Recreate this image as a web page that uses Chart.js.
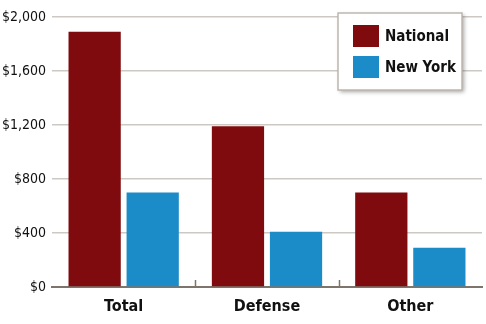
<!DOCTYPE html>
<html>
<head>
<meta charset="utf-8">
<script src="https://cdn.jsdelivr.net/npm/chart.js@4/dist/chart.umd.min.js"></script>
<style>
  html, body { margin: 0; padding: 0; background: #fff; }
  #wrap { width: 486px; height: 324px; }
</style>
</head>
<body>
<div id="wrap"><canvas id="spendChart" width="486" height="324"></canvas></div>
<script>
const categories = ['Total', 'Defense', 'Other'];
const nationalValues = [1890, 1190, 700];
const newYorkValues = [700, 410, 290];
const seriesNames = ['National', 'New York'];
const seriesColors = ['#800b0e', '#1b8cc8'];

const FONT = '"DejaVu Sans Condensed", "Liberation Sans", Arial, sans-serif';

// short upward marks on the x axis between categories
const dividerTicks = {
    id: 'dividerTicks',
    afterDatasetsDraw(chart) {
        const { ctx, chartArea, scales: { x } } = chart;
        const step = (chartArea.right - chartArea.left) / categories.length;
        ctx.save();
        ctx.strokeStyle = '#7d746b';
        ctx.lineWidth = 1.5;
        for (let i = 1; i < categories.length; i++) {
            const px = Math.round(x.getPixelForValue(i) - step / 2) + 0.5;
            ctx.beginPath();
            ctx.moveTo(px, chartArea.bottom);
            ctx.lineTo(px, chartArea.bottom - 7);
            ctx.stroke();
        }
        ctx.restore();
    }
};

// boxed legend in the top right corner with a drop shadow
const boxLegend = {
    id: 'boxLegend',
    afterDraw(chart) {
        const { ctx } = chart;
        const bx = 338, by = 13, bw = 124, bh = 77;
        ctx.save();
        ctx.shadowColor = 'rgba(0,0,0,0.35)';
        ctx.shadowBlur = 4;
        ctx.shadowOffsetX = 2;
        ctx.shadowOffsetY = 2;
        ctx.fillStyle = '#fff';
        ctx.fillRect(bx, by, bw, bh);
        ctx.restore();
        ctx.save();
        ctx.strokeStyle = '#bdb6ae';
        ctx.lineWidth = 1.5;
        ctx.strokeRect(bx, by, bw, bh);
        ctx.font = 'bold 15px ' + FONT;
        ctx.textBaseline = 'middle';
        chart.data.datasets.forEach((ds, i) => {
            const y = by + 12 + i * 31;
            ctx.fillStyle = ds.backgroundColor;
            ctx.fillRect(bx + 15, y, 26, 22);
            ctx.fillStyle = '#111';
            ctx.fillText(ds.label, bx + 47, y + 12);
        });
        ctx.restore();
    }
};

new Chart(document.getElementById('spendChart'), {
    type: 'bar',
    data: {
        labels: categories,
        datasets: [
            { label: seriesNames[0], data: nationalValues, backgroundColor: seriesColors[0] },
            { label: seriesNames[1], data: newYorkValues, backgroundColor: seriesColors[1] }
        ]
    },
    options: {
        responsive: false,
        animation: false,
        layout: { padding: { top: 17, right: 4, bottom: 0, left: 0 } },
        categoryPercentage: 0.81,
        barPercentage: 0.9,
        plugins: {
            legend: { display: false },
            tooltip: { enabled: false }
        },
        scales: {
            x: {
                afterFit(scale) { scale.height = 37; },
                grid: { display: false },
                border: { color: '#7d746b', width: 2 },
                ticks: {
                    color: '#111',
                    padding: 2,
                    font: { family: FONT, size: 16, weight: 'bold' }
                }
            },
            y: {
                min: 0,
                max: 2000,
                afterFit(scale) { scale.width = 52; },
                border: { display: false },
                grid: { color: '#cdc8c3', lineWidth: 1.5, drawTicks: false },
                ticks: {
                    stepSize: 400,
                    color: '#111',
                    padding: 6,
                    font: { family: FONT, size: 14 },
                    callback: v => '$' + v.toLocaleString('en-US')
                }
            }
        }
    },
    plugins: [dividerTicks, boxLegend]
});
</script>
</body>
</html>
